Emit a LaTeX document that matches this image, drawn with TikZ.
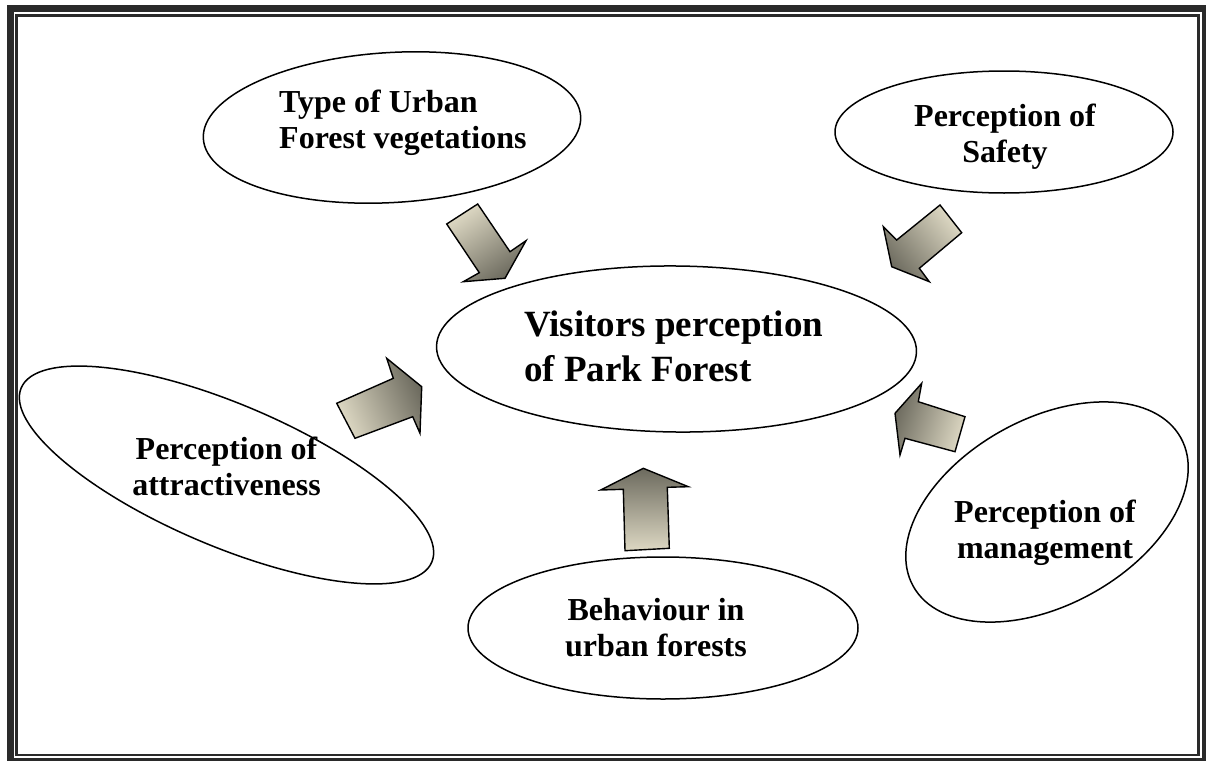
\documentclass[tikz,border=0pt]{standalone}
\usepackage{fontspec}
\setmainfont{Liberation Serif}
\usetikzlibrary{shapes.geometric}
\definecolor{framecol}{HTML}{2A2A2A}
\definecolor{arrlight}{HTML}{DDD8C3}
\definecolor{arrdark}{HTML}{6C6A5E}
\begin{document}
\begin{tikzpicture}[x=1pt,y=-1pt,
  ell/.style={draw=black, line width=1.5pt, ellipse, inner sep=0pt},
  lbl/.style={font=\fontsize{32}{36}\selectfont\bfseries, align=center, inner sep=0pt, anchor=base},
  bigl/.style={font=\fontsize{37}{45}\selectfont\bfseries, align=left, inner sep=0pt, anchor=base west},
  blockarrow/.style={draw=black, line width=1.4pt, line join=miter, top color=arrdark, bottom color=arrlight}]
\useasboundingbox (0,0) rectangle (1206,760);
\clip (0,0) rectangle (1206,760);
% frame
\draw[framecol, line width=7.3pt] (10.3,8.7) rectangle (1205.3,762);
\draw[framecol, line width=2.4pt] (16.3,15.7) rectangle (1198.3,755);
% ellipses
\node[ell, minimum width=378pt, minimum height=150pt, rotate=3.4] (typeE) at (392,127.5) {};
\node[ell, minimum width=338pt, minimum height=122pt] (safeE) at (1004,132) {};
\node[ell, minimum width=480pt, minimum height=166pt, rotate=-0.6] (centerE) at (676.5,349) {};
\node[ell, minimum width=446pt, minimum height=142pt, rotate=-23] (attrE) at (226.5,475) {};
\node[ell, minimum width=306pt, minimum height=186pt, rotate=29] (mgmtE) at (1047,512) {};
\node[ell, minimum width=390pt, minimum height=142pt] (behE) at (663,628) {};
% labels (anchor base = baseline of the last line)
\node[lbl, align=left, anchor=base west] (typeT) at (279,148) {Type of Urban\\Forest vegetations};
\node[lbl] (safeT) at (1005,162) {Perception of\\Safety};
\node[bigl] (centerT) at (524,381) {Visitors perception\\of Park Forest};
\node[lbl] (attrT) at (226.5,495) {Perception of\\attractiveness};
\node[lbl] (mgmtT) at (1045,558) {Perception of\\management};
\node[lbl] (behT) at (656,656) {Behaviour in\\urban forests};
% block arrows
\path[blockarrow, shading angle=-146] (446.7,224) -- (477.7,204) -- (510,251.7) -- (526,240.7) -- (505,278.3) -- (463.3,281.7) -- (479.3,272.7) -- cycle;
\path[blockarrow, shading angle=129] (940,205) -- (961.7,232.7) -- (919.3,268.3) -- (929.3,281.7) -- (891.7,266.7) -- (883.3,226.7) -- (896.7,240) -- cycle;
\path[blockarrow, shading angle=-66] (336.7,403.3) -- (393.3,378.3) -- (386.7,358.3) -- (421.7,386.7) -- (420,433.3) -- (412.7,416.7) -- (355,438.3) -- cycle;
\path[blockarrow, shading angle=72] (921.7,383.3) -- (918.3,401.7) -- (965,416.7) -- (955,451.7) -- (905,438.3) -- (900,455) -- (895,413.3) -- cycle;
\path[blockarrow, shading angle=0] (643.3,468.3) -- (688.3,486.7) -- (667.3,487.3) -- (669.3,548.3) -- (625,550.7) -- (623.3,489.3) -- (600.7,490) -- cycle;
\end{tikzpicture}
\end{document}
